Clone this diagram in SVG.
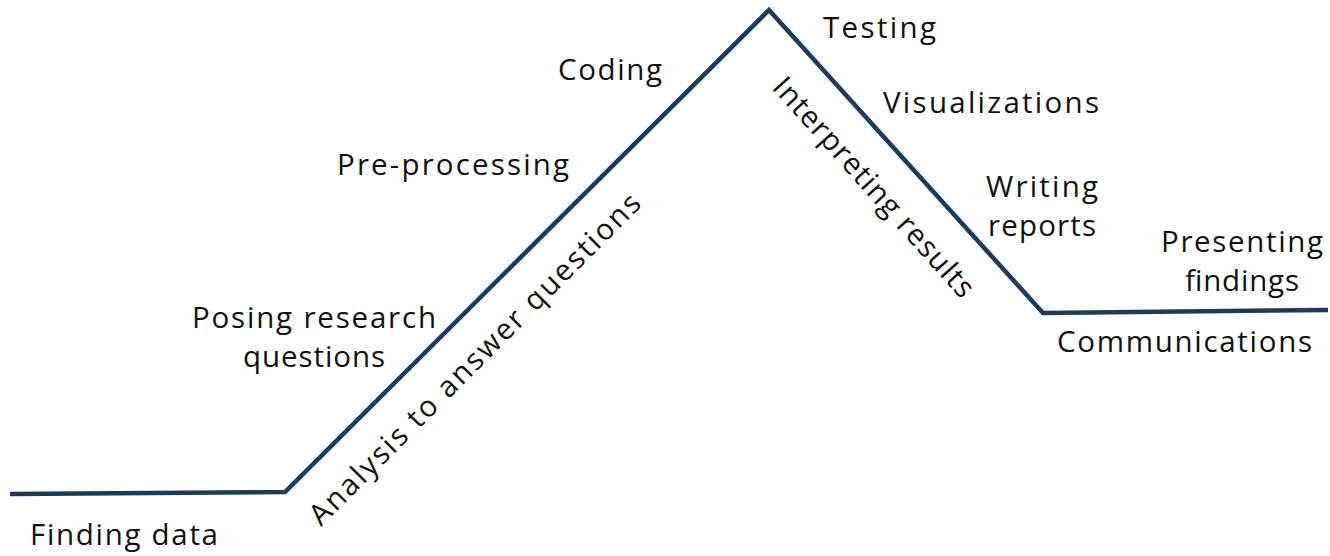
<svg xmlns="http://www.w3.org/2000/svg" width="1330" height="556" viewBox="0 0 1330 556">
<style>
.lbl{font-family:"Open Sans","Liberation Sans",sans-serif;font-size:29.5px;fill:#111;}
.mid{text-anchor:middle;}
.path{fill:none;stroke:#1f3b58;stroke-width:4.5;stroke-linejoin:miter;}
</style>
<rect width="1330" height="556" fill="#fff"/>
<g id="connectors">
<polyline class="path" points="10,494 285,492 769,10 1043,313 1328,310"/>
</g>
<g id="finding-data"><text class="lbl" x="30" y="545" textLength="188">Finding data</text></g>
<g id="posing-research-questions">
<text class="lbl mid" x="314" y="328" textLength="244">Posing research</text>
<text class="lbl mid" x="314" y="367" textLength="142">questions</text>
</g>
<g id="pre-processing"><text class="lbl" x="337" y="175" textLength="232">Pre-processing</text></g>
<g id="coding"><text class="lbl" x="558" y="80" textLength="104">Coding</text></g>
<g id="analysis"><text class="lbl" transform="translate(321,527) rotate(-45)" textLength="455">Analysis to answer questions</text></g>
<g id="testing"><text class="lbl" x="823" y="38" textLength="113">Testing</text></g>
<g id="interpreting"><text class="lbl" transform="translate(771,88) rotate(48)" textLength="285">Interpreting results</text></g>
<g id="visualizations"><text class="lbl" x="883" y="113" textLength="216">Visualizations</text></g>
<g id="writing-reports">
<text class="lbl mid" x="1042" y="197" textLength="112">Writing</text>
<text class="lbl mid" x="1042" y="236" textLength="108">reports</text>
</g>
<g id="presenting-findings">
<text class="lbl mid" x="1242" y="252" textLength="162">Presenting</text>
<text class="lbl mid" x="1242" y="291" textLength="114">findings</text>
</g>
<g id="communications"><text class="lbl" x="1057" y="352" textLength="255">Communications</text></g>
</svg>
